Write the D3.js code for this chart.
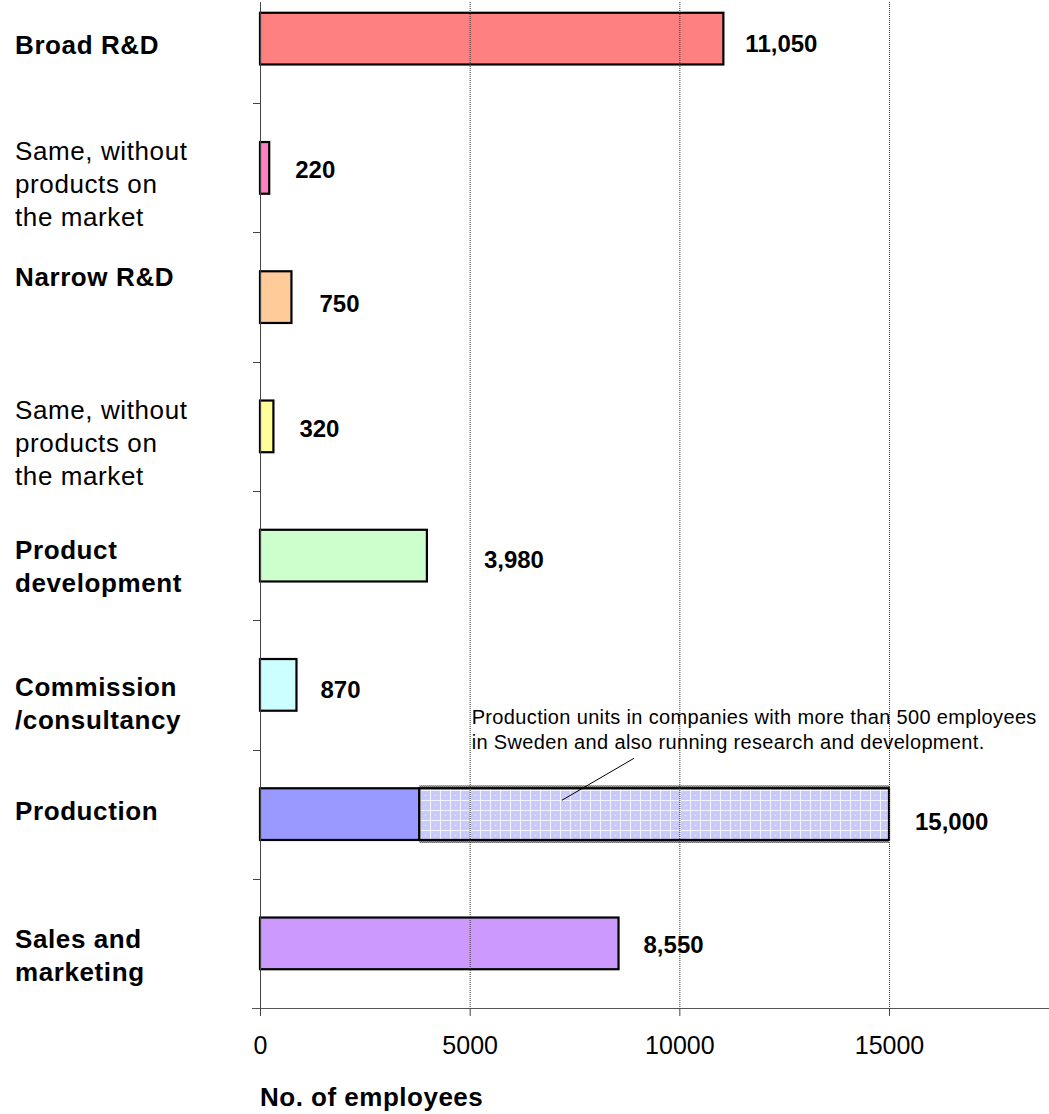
<!DOCTYPE html>
<html>
<head>
<meta charset="utf-8">
<script src="https://cdn.jsdelivr.net/npm/d3@7"></script>
<style>
  html, body { margin: 0; padding: 0; background: #fff; }
  svg { display: block; font-family: "Liberation Sans", Arial, Helvetica, sans-serif; }
</style>
</head>
<body>
<svg id="chart" width="1049" height="1114"></svg>
<script>
// Employees by type of activity
const categories = [
  "Broad R&D",
  "Same, without\nproducts on\nthe market",
  "Narrow R&D",
  "Same, without\nproducts on\nthe market ",
  "Product\ndevelopment",
  "Commission\n/consultancy",
  "Production",
  "Sales and\nmarketing"
];
const boldLabel = [true, false, true, false, true, true, true, true];
const employees = [11050, 220, 750, 320, 3980, 870, 15000, 8550];
const valueLabels = ["11,050", "220", "750", "320", "3,980", "870", "15,000", "8,550"];
const barColors = ["#FF8080", "#FF80C0", "#FFCC99", "#FFFF99", "#CCFFCC", "#CCFFFF", "#9999FF", "#CC99FF"];

// Production split: units inside large R&D companies (hatched part)
const productionOther = 3800;
const productionInLargeRnD = 11200;

const xTicks = [0, 5000, 10000, 15000];
const axisTitle = "No. of employees";
const noteLines = [
  "Production units in companies with more than 500 employees",
  "in Sweden and also running research and development."
];

// text placement tweaks (category block shift from band centre, value label offsets)
const catShift = [6, 16, -20, 16, 11, 18, -3, 12];
const valDx = [22, 26, 28, 26, 57, 24, 26, 25];
const valDy = [5, 1, 6, 2, 4, 4, 7, 1];

const W = 1049, H = 1114;
const svg = d3.select("#chart");

const x = d3.scaleLinear().domain([0, 15000]).range([260, 889]);
const y = d3.scaleBand().domain(categories).range([-26, 1008]).paddingInner(0.6).paddingOuter(0.3);
const axisY = 1008;
const step = y.step();
const bandTop = c => y(c) - y.paddingOuter() * step;

const defs = svg.append("defs");
const pat = defs.append("pattern").attr("id", "prodHatch").attr("patternUnits", "userSpaceOnUse")
  .attr("width", 10).attr("height", 10);
pat.append("rect").attr("width", 10).attr("height", 10).attr("fill", "#CACAFA");
pat.append("path").attr("d", "M0,0.5H10M0.5,0V10").attr("stroke", "#F4F4FF").attr("stroke-width", 1);
pat.append("rect").attr("x", 5).attr("y", 5).attr("width", 1).attr("height", 1).attr("fill", "#F0F0FF");
const edge = defs.append("pattern").attr("id", "edgeDots").attr("patternUnits", "userSpaceOnUse")
  .attr("width", 2).attr("height", 2);
edge.append("rect").attr("width", 2).attr("height", 2).attr("fill", "#A0A0A0");
edge.append("rect").attr("width", 1).attr("height", 1).attr("fill", "#6A6A6A");
edge.append("rect").attr("x", 1).attr("y", 1).attr("width", 1).attr("height", 1).attr("fill", "#6A6A6A");

// bars
const data = categories.map((c, i) => ({ c, v: employees[i], i }));
svg.append("g").selectAll("rect").data(data).join("rect")
  .attr("x", x(0))
  .attr("y", d => y(d.c))
  .attr("width", d => (d.c === "Production" ? x(productionOther) : x(d.v)) - x(0))
  .attr("height", y.bandwidth())
  .attr("fill", (d, i) => barColors[i])
  .attr("stroke", "#000").attr("stroke-width", 2.2);

// hatched production segment
const py = y("Production"), bh = y.bandwidth();
const x0p = x(productionOther), x1p = x(productionOther + productionInLargeRnD);
svg.append("rect").attr("x", x0p).attr("y", py - 3).attr("width", x1p - x0p).attr("height", bh + 6)
  .attr("fill", "url(#edgeDots)");
svg.append("rect").attr("x", x0p).attr("y", py).attr("width", x1p - x0p).attr("height", bh)
  .attr("fill", "url(#prodHatch)").attr("stroke", "#000").attr("stroke-width", 2.2);

// dotted grid lines (drawn over the bars)
svg.append("g").selectAll("line").data(xTicks.filter(t => t > 0)).join("line")
  .attr("x1", d => x(d) + 0.5).attr("x2", d => x(d) + 0.5)
  .attr("y1", 2).attr("y2", axisY)
  .attr("stroke", "#333").attr("stroke-width", 1).attr("stroke-dasharray", "1,1");

// y axis
svg.append("line").attr("x1", x(0) + 0.5).attr("x2", x(0) + 0.5).attr("y1", 2).attr("y2", axisY + 8)
  .attr("stroke", "#444").attr("stroke-width", 1);
const boundaries = d3.range(1, categories.length).map(k => bandTop(categories[k]));
svg.append("g").selectAll("line").data(boundaries).join("line")
  .attr("x1", x(0) - 7).attr("x2", x(0)).attr("y1", d => Math.round(d) + 0.5).attr("y2", d => Math.round(d) + 0.5)
  .attr("stroke", "#444");

// x axis
svg.append("line").attr("x1", x(0) - 8).attr("x2", W).attr("y1", axisY + 0.5).attr("y2", axisY + 0.5)
  .attr("stroke", "#555").attr("stroke-width", 1);
const xAxis = svg.append("g").attr("transform", `translate(0,${axisY})`)
  .call(d3.axisBottom(x).tickValues(xTicks).tickSize(8).tickPadding(20).tickFormat(d3.format("d")));
xAxis.select(".domain").remove();
xAxis.selectAll(".tick line").attr("stroke", "#444");
xAxis.selectAll(".tick text").attr("font-size", 25).attr("fill", "#000")
  .attr("font-family", "'Liberation Sans', Arial, sans-serif");

svg.append("text").attr("x", 260).attr("y", 1106).attr("font-size", 26).attr("font-weight", "bold")
  .attr("letter-spacing", 0.5)
  .text(axisTitle);

// category labels
const lineH = 33;
data.forEach((d, i) => {
  const lines = d.c.trim().split("\n");
  const center = y(d.c) + y.bandwidth() / 2 + catShift[i];
  const first = center - (lines.length - 1) * lineH / 2;
  const t = svg.append("text").attr("x", 15).attr("font-size", 26).attr("letter-spacing", 0.6)
    .attr("font-weight", boldLabel[i] ? "bold" : "normal");
  lines.forEach((ln, k) => {
    t.append("tspan").attr("x", 15).attr("y", first + k * lineH).attr("dy", "0.36em").text(ln);
  });
});

// value labels
svg.append("g").selectAll("text").data(data).join("text")
  .attr("x", d => x(d.v) + valDx[d.i])
  .attr("y", d => y(d.c) + y.bandwidth() / 2 + valDy[d.i])
  .attr("dy", "0.36em")
  .attr("font-size", 24).attr("font-weight", "bold")
  .text(d => valueLabels[d.i]);

// note for the hatched part
const note = svg.append("text").attr("font-size", 20).attr("letter-spacing", 0.35);
noteLines.forEach((ln, k) => {
  note.append("tspan").attr("x", x(5000) + 2).attr("y", py - 71 + k * 25).attr("dy", "0.36em").text(ln);
});
svg.append("line")
  .attr("x1", x(7200)).attr("y1", py + 12)
  .attr("x2", x(8920)).attr("y2", py - 30)
  .attr("stroke", "#000").attr("stroke-width", 1);
</script>
</body>
</html>
